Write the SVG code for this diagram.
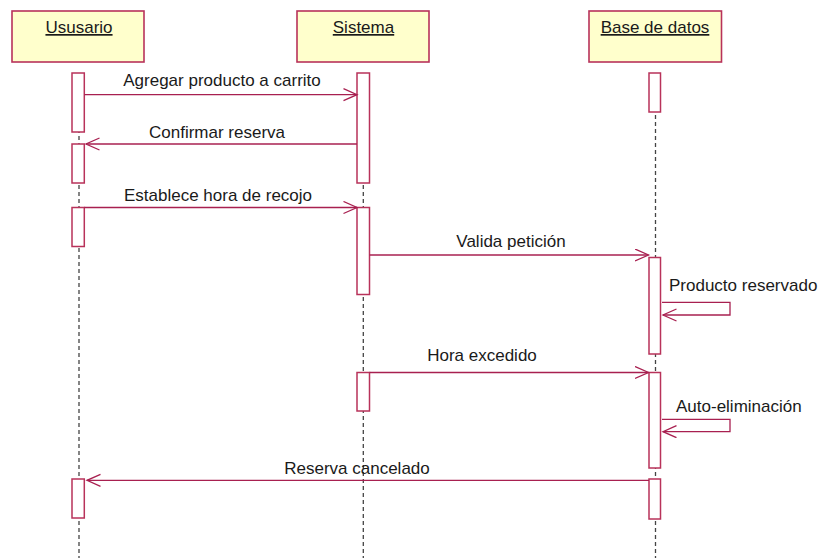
<svg xmlns="http://www.w3.org/2000/svg" width="822" height="558" viewBox="0 0 822 558">
<style>
.obj{fill:#FFFFCC;stroke:#B8325A;stroke-width:1.6}
.act{fill:#FFFFFF;stroke:#B8325A;stroke-width:1.5}
.life{stroke:#444444;stroke-width:1.3;stroke-dasharray:4,3;fill:none}
.msg{stroke:#A82050;stroke-width:1.3;fill:none}
.t{font-family:"Liberation Sans",Arial,sans-serif;font-size:17px;fill:#1A1A1A}
.title{text-decoration:underline}
</style>
<defs>
<marker id="arr" markerWidth="16" markerHeight="14" refX="14" refY="6.5" orient="auto" markerUnits="userSpaceOnUse">
<path d="M0.5,0.5 L14,6.5 L0.5,12.5" fill="none" stroke="#A82050" stroke-width="1.3"/>
</marker>
</defs>
<rect width="822" height="558" fill="#FFFFFF"/>
<g id="lifelines">
<line class="life" x1="79" y1="73" x2="79" y2="558"/>
<line class="life" x1="363.3" y1="73" x2="363.3" y2="558"/>
<line class="life" x1="655.5" y1="73" x2="655.5" y2="558"/>
</g>
<g id="usuario">
<rect class="obj" x="12" y="11" width="132" height="51"/>
<text class="t title" x="79" y="33" text-anchor="middle">Ususario</text>
</g>
<g id="sistema">
<rect class="obj" x="297" y="11" width="132" height="51"/>
<text class="t title" x="363.5" y="33" text-anchor="middle">Sistema</text>
</g>
<g id="basedatos">
<rect class="obj" x="589" y="11" width="132.5" height="51"/>
<text class="t title" x="655" y="33" text-anchor="middle">Base de datos</text>
</g>
<g id="activations">
<rect class="act" x="72" y="73" width="12.3" height="59"/>
<rect class="act" x="72" y="144" width="12.3" height="39"/>
<rect class="act" x="72" y="207.5" width="12.3" height="39"/>
<rect class="act" x="72" y="479" width="12.3" height="39"/>
<rect class="act" x="357" y="73" width="12.5" height="110"/>
<rect class="act" x="357" y="207.5" width="12.5" height="87"/>
<rect class="act" x="357" y="372.5" width="12.5" height="38.5"/>
<rect class="act" x="649" y="73" width="11.5" height="39"/>
<rect class="act" x="649" y="257.5" width="11.5" height="96.5"/>
<rect class="act" x="649" y="372.5" width="11.5" height="95.5"/>
<rect class="act" x="649" y="479" width="11.5" height="40"/>
</g>
<g id="connectors">
<line class="msg" x1="84.3" y1="94.7" x2="357" y2="94.7" marker-end="url(#arr)"/>
<line class="msg" x1="357" y1="144" x2="86" y2="144" marker-end="url(#arr)"/>
<line class="msg" x1="84.3" y1="207.5" x2="357" y2="207.5" marker-end="url(#arr)"/>
<line class="msg" x1="369.5" y1="255" x2="648.5" y2="255" marker-end="url(#arr)"/>
<polyline class="msg" points="662,302.3 730,302.3 730,315 663,315" marker-end="url(#arr)"/>
<line class="msg" x1="369.5" y1="372.5" x2="648.5" y2="372.5" marker-end="url(#arr)"/>
<polyline class="msg" points="662,419.3 730,419.3 730,431.7 663,431.7" marker-end="url(#arr)"/>
<line class="msg" x1="649" y1="480.3" x2="87" y2="480.3" marker-end="url(#arr)"/>
</g>
<g id="labels">
<text class="t" x="222" y="86" text-anchor="middle">Agregar producto a carrito</text>
<text class="t" x="217" y="138" text-anchor="middle">Confirmar reserva</text>
<text class="t" x="218" y="201" text-anchor="middle">Establece hora de recojo</text>
<text class="t" x="511" y="247" text-anchor="middle">Valida petición</text>
<text class="t" x="669" y="291">Producto reservado</text>
<text class="t" x="482" y="361" text-anchor="middle">Hora excedido</text>
<text class="t" x="676" y="412">Auto-eliminación</text>
<text class="t" x="357" y="474" text-anchor="middle">Reserva cancelado</text>
</g>
</svg>
